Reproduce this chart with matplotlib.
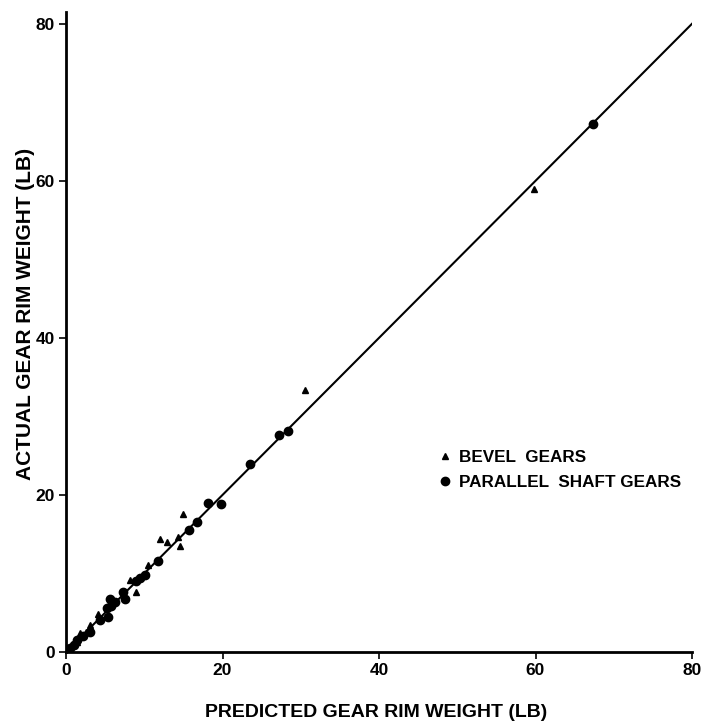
import matplotlib
matplotlib.use("Agg")
import matplotlib.pyplot as plt

bevel_pred = [1.4, 1.8, 2.6, 3.1, 4.1, 8.2, 9.0, 10.5, 12.0, 12.9, 14.3, 14.6, 15.0, 30.5, 59.8]
bevel_act = [1.3, 2.4, 2.6, 3.4, 4.8, 9.2, 7.7, 11.1, 14.4, 14.0, 14.6, 13.5, 17.6, 33.4, 59.0]

par_pred = [0.5, 1.0, 1.4, 2.2, 3.1, 4.3, 5.2, 5.4, 5.8, 5.6, 6.2, 7.3, 7.5, 9.0, 9.5, 10.1,
            11.8, 15.7, 16.7, 18.1, 19.8, 23.5, 27.2, 28.4, 67.4]
par_act = [0.5, 0.9, 1.5, 2.0, 2.6, 4.1, 5.6, 4.5, 5.8, 6.8, 6.4, 7.7, 6.8, 9.0, 9.4, 9.8,
           11.6, 15.5, 16.5, 19.0, 18.9, 23.9, 27.6, 28.2, 67.2]

fit_x = [0, 80]
fit_y = [0, 80]

ticks = [0, 20, 40, 60, 80]
xlabel = "PREDICTED GEAR RIM WEIGHT (LB)"
ylabel = "ACTUAL GEAR RIM WEIGHT (LB)"

plt.rcParams["font.family"] = ["Liberation Sans", "DejaVu Sans"]

fig = plt.figure(figsize=(7.04, 7.27), dpi=100)
ax = fig.add_axes([66/704, 1-652/727, (692-66)/704, (652-12)/727])

ax.plot(fit_x, fit_y, color="black", lw=1.5, zorder=1)
ax.plot(bevel_pred, bevel_act, linestyle="none", marker="^", ms=4, color="black",
        label="BEVEL  GEARS", zorder=3)
ax.plot(par_pred, par_act, linestyle="none", marker="o", ms=6, color="black",
        label="PARALLEL  SHAFT GEARS", zorder=3)

ax.set_xlim(0, 80)
ax.set_ylim(0, 81.5)
ax.set_xticks(ticks)
ax.set_yticks(ticks)
ax.set_xticklabels([str(t) for t in ticks], fontsize=12.5, fontweight="bold")
ax.set_yticklabels([str(t) for t in ticks], fontsize=12.5, fontweight="bold")
ax.tick_params(direction="out", length=5, width=1.2, pad=3)
ax.spines["top"].set_visible(False)
ax.spines["right"].set_visible(False)
ax.spines["left"].set_linewidth(2)
ax.spines["bottom"].set_linewidth(2)

ax.set_xlabel(xlabel, fontsize=14, fontweight="bold")
ax.set_ylabel(ylabel, fontsize=15, fontweight="bold")
ax.xaxis.set_label_coords(0.496, -0.081)
ax.yaxis.set_label_coords(-0.05, 0.528)

leg = ax.legend(loc="upper left", bbox_to_anchor=(0.581, 0.326), frameon=False,
                prop={"weight": "bold", "size": 12.3}, handletextpad=0.3,
                labelspacing=0.6, handlelength=1.0, borderaxespad=0.0)

fig.savefig("out.png", dpi=100)
